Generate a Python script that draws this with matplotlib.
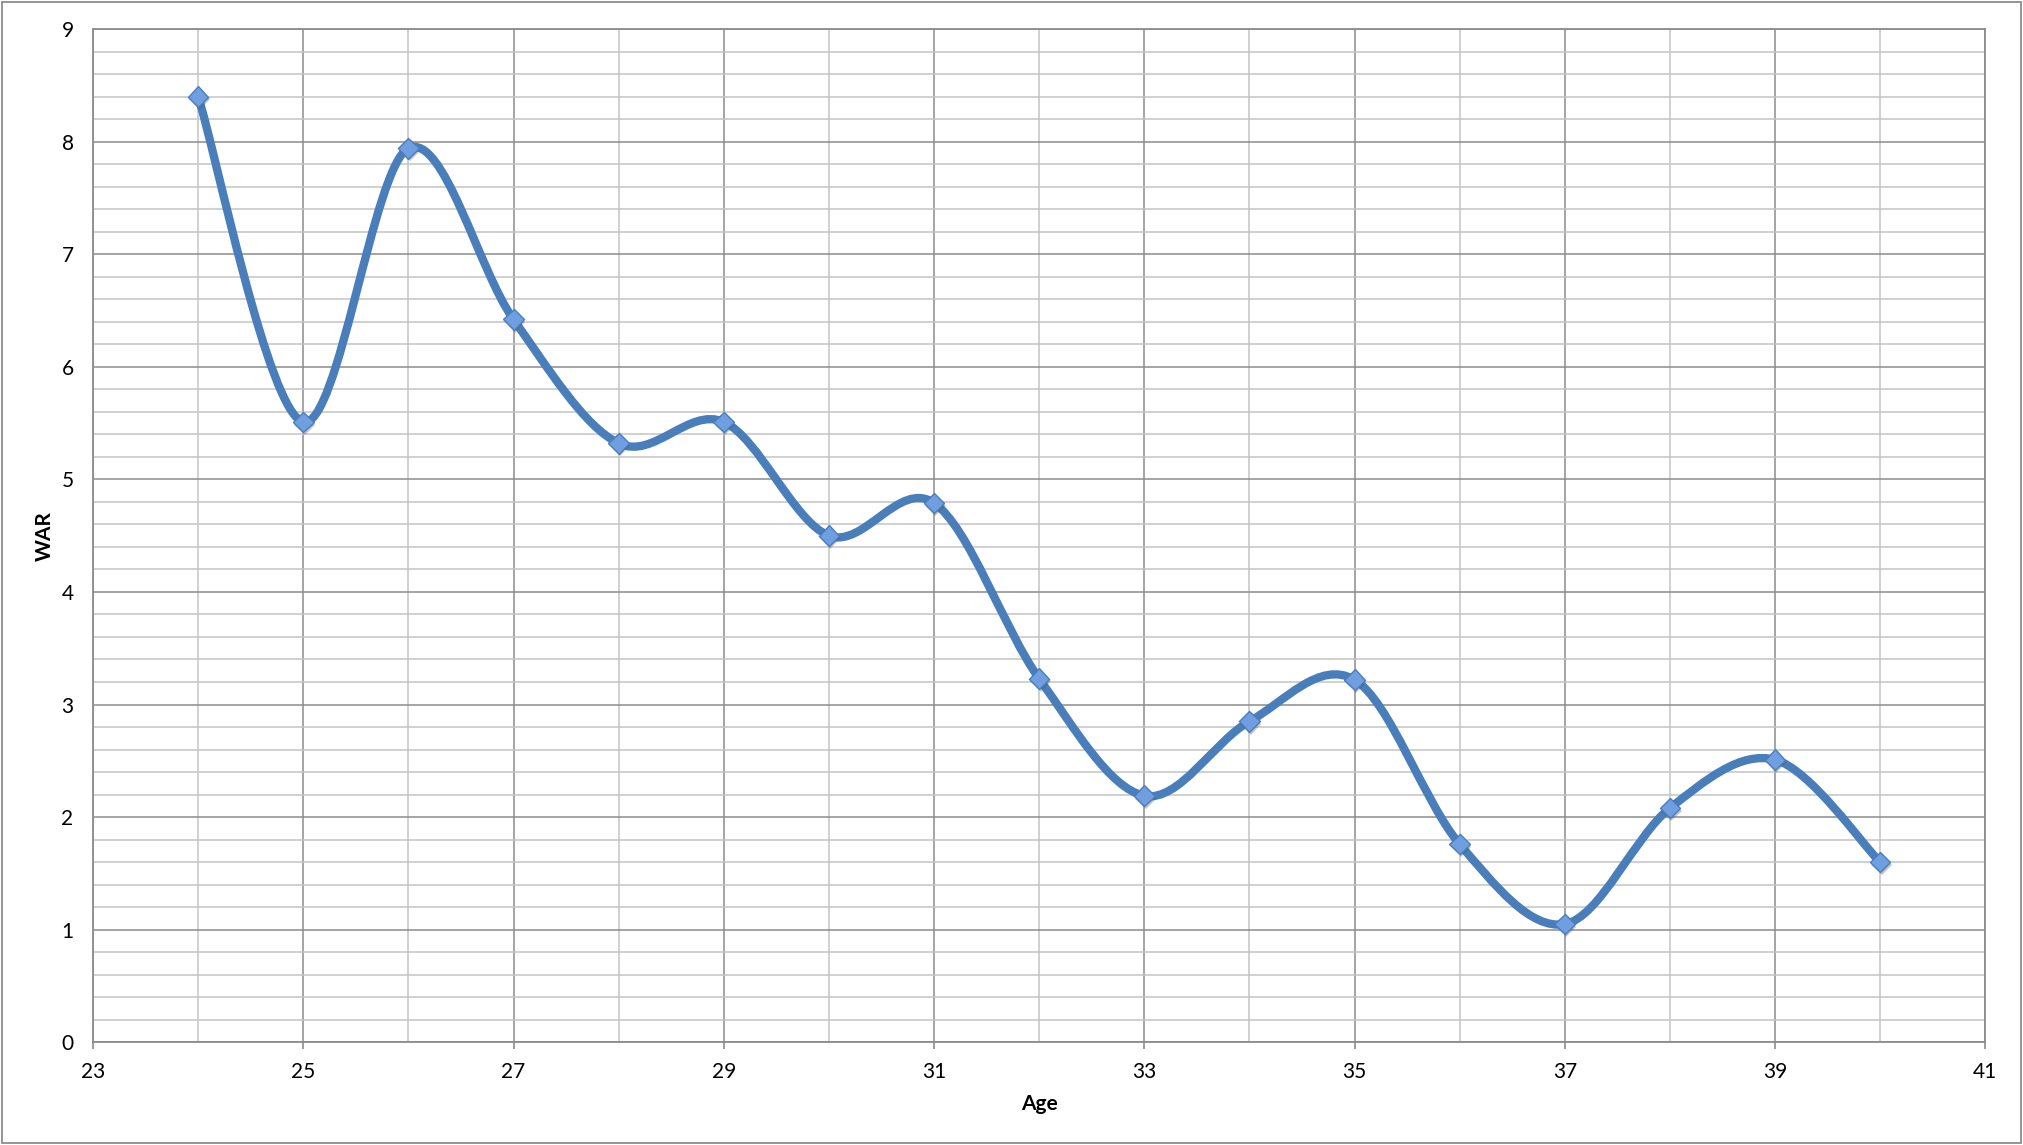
import numpy as np
import matplotlib
matplotlib.use("Agg")
import matplotlib.pyplot as plt
from matplotlib.path import Path
from matplotlib.patches import PathPatch, Rectangle
from matplotlib.ticker import MultipleLocator
import matplotlib.patheffects as pe

ages = [24, 25, 26, 27, 28, 29, 30, 31, 32, 33, 34, 35, 36, 37, 38, 39, 40]
war = [8.40, 5.51, 7.94, 6.42, 5.32, 5.51, 4.50, 4.79, 3.23, 2.19, 2.85, 3.22, 1.76, 1.05, 2.08, 2.51, 1.60]
x_ticks = [23, 25, 27, 29, 31, 33, 35, 37, 39, 41]
y_ticks = [0, 1, 2, 3, 4, 5, 6, 7, 8, 9]

plt.rcParams['font.family'] = ['Lato', 'DejaVu Sans']

LINE = '#4a7ebb'
MAJ = '#8c8c8c'
MIN = '#c4c4c4'

fig = plt.figure(figsize=(20.24, 11.45), dpi=100)
ax = fig.add_axes([93/2024, 1 - 1042.3/1145, 1892.3/2024, 1013.3/1145])

ax.set_xlim(23, 41)
ax.set_ylim(0, 9)
ax.xaxis.set_major_locator(MultipleLocator(2))
ax.xaxis.set_minor_locator(MultipleLocator(1))
ax.yaxis.set_major_locator(MultipleLocator(1))
ax.yaxis.set_minor_locator(MultipleLocator(0.2))
ax.set_xticks(x_ticks)
ax.set_yticks(y_ticks)

ax.grid(which='major', color=MAJ, linewidth=1.1, zorder=0)
ax.grid(which='minor', color=MIN, linewidth=1.1, zorder=0)
ax.set_axisbelow(True)
for s in ax.spines.values():
    s.set_color(MAJ)
    s.set_linewidth(1.3)

ax.tick_params(axis='x', which='major', direction='out', length=5, width=1.2, color=MAJ,
               labelsize=15, pad=9)
ax.tick_params(axis='x', which='minor', length=0)
ax.tick_params(axis='y', which='both', length=0, labelsize=15, pad=14)

# Smoothed line (Catmull-Rom style cubic Bezier, like Excel smoothing)
xs = np.array(ages, dtype=float)
ys = np.array(war, dtype=float)
pts = np.column_stack([xs, ys])
n = len(pts)
verts = [pts[0]]
codes = [Path.MOVETO]
for i in range(n - 1):
    p0 = pts[i - 1] if i > 0 else pts[i]
    p1 = pts[i]
    p2 = pts[i + 1]
    p3 = pts[i + 2] if i + 2 < n else pts[i + 1]
    c1 = p1 + (p2 - p0) / 6.0
    c2 = p2 - (p3 - p1) / 6.0
    verts += [c1, c2, p2]
    codes += [Path.CURVE4] * 3
path = Path(verts, codes)
ax.add_patch(PathPatch(path, facecolor='none', edgecolor=LINE, linewidth=6.0,
                       capstyle='round', joinstyle='round', zorder=3))

# markers with soft shadow
ax.plot(ages, war, linestyle='none', marker='D', markersize=10.5,
        markerfacecolor='#6f9fe0', markeredgecolor='#4a7ebb', markeredgewidth=1.0,
        zorder=4,
        path_effects=[pe.SimplePatchShadow(offset=(1, -2), shadow_rgbFace='#555555', alpha=0.35),
                      pe.Normal()])

ax.set_xlabel('Age', fontsize=15, fontweight='bold')
ax.xaxis.set_label_coords(0.5, -0.051)
ax.set_ylabel('WAR', fontsize=15, fontweight='bold', va='center')
ax.yaxis.set_label_coords(-0.0254, 0.5)

fig.patches.append(Rectangle((2/2024, 2/1145), 2019/2024, 1141/1145, transform=fig.transFigure,
                             fill=False, edgecolor='#8c8c8c', linewidth=1.3))

fig.savefig('out.png', dpi=100)
